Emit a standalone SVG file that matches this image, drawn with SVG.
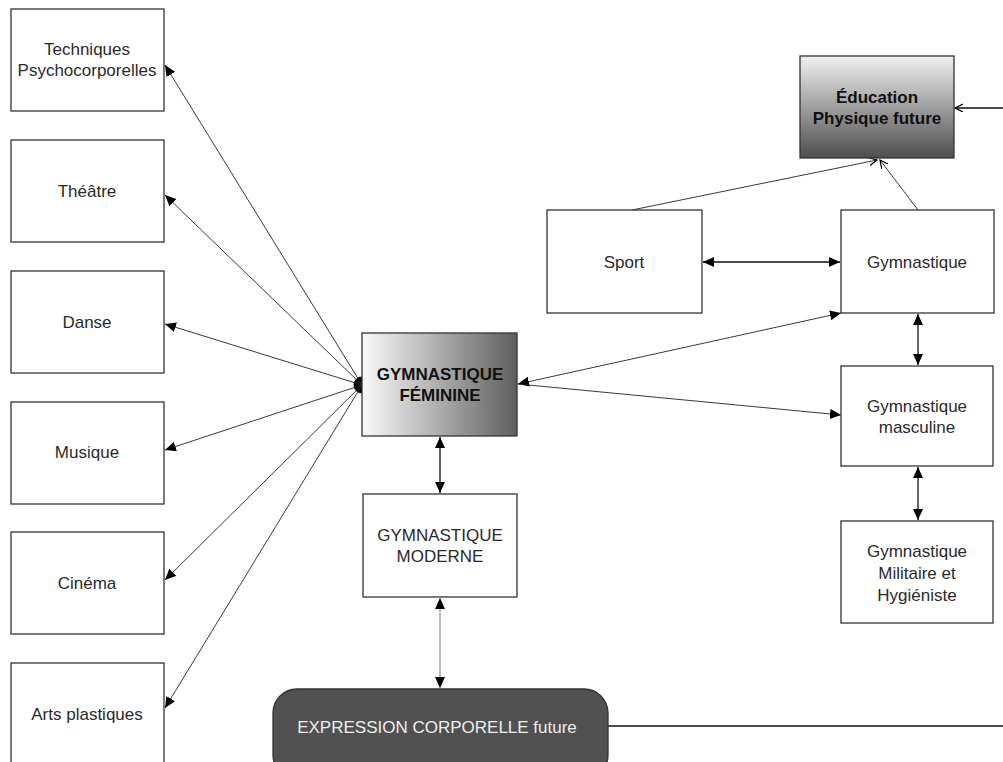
<svg xmlns="http://www.w3.org/2000/svg" width="1003" height="762" viewBox="0 0 1003 762">
<style>
.box{fill:#fff;stroke:#333;stroke-width:1.3}
.t{font-family:"Liberation Sans",Arial,sans-serif;font-size:17px;fill:#2a2a2a;text-anchor:middle}
.b{font-weight:bold;fill:#111}
.w{fill:#eee}
.ln{fill:none;stroke:#222;stroke-width:0.9}
.lg{fill:none;stroke:#999;stroke-width:1.3}
.lk{fill:none;stroke:#111;stroke-width:1.3}
</style>
<defs>
<marker id="ah" markerUnits="userSpaceOnUse" markerWidth="13" markerHeight="11" refX="11" refY="5" orient="auto-start-reverse" viewBox="0 0 13 11">
<path d="M0,0 L11,5 L0,10 z" fill="#000"/>
</marker>
<marker id="oh" markerUnits="userSpaceOnUse" markerWidth="10" markerHeight="10" refX="8" refY="4" orient="auto" viewBox="0 0 10 10">
<path d="M0,0 L8,4 L0,8" fill="none" stroke="#000" stroke-width="1.2"/>
</marker>
<linearGradient id="gf" x1="0" y1="0" x2="1" y2="0">
<stop offset="0" stop-color="#fafafa"/>
<stop offset="1" stop-color="#5e5e5e"/>
</linearGradient>
<linearGradient id="ge" x1="0" y1="0" x2="0" y2="1">
<stop offset="0" stop-color="#f0f0f0"/>
<stop offset="1" stop-color="#4e4e4e"/>
</linearGradient>
</defs>
<rect width="1003" height="762" fill="#fff"/>
<g id="connectors">
<circle cx="362" cy="385" r="8.5" fill="#000"/>
<line class="ln" x1="362" y1="385" x2="165" y2="65" marker-end="url(#ah)"/>
<line class="ln" x1="362" y1="385" x2="165" y2="195" marker-end="url(#ah)"/>
<line class="ln" x1="362" y1="385" x2="165" y2="324" marker-end="url(#ah)"/>
<line class="ln" x1="362" y1="385" x2="165" y2="450" marker-end="url(#ah)"/>
<line class="ln" x1="362" y1="385" x2="165" y2="580" marker-end="url(#ah)"/>
<line class="ln" x1="362" y1="385" x2="165" y2="708" marker-end="url(#ah)"/>
<line class="ln" x1="518" y1="384" x2="841" y2="313" marker-start="url(#ah)" marker-end="url(#ah)"/>
<line class="ln" x1="518" y1="384" x2="841" y2="415" marker-end="url(#ah)"/>
<line class="lk" x1="703" y1="262" x2="840" y2="262" marker-start="url(#ah)" marker-end="url(#ah)"/>
<line class="lk" x1="918" y1="314" x2="918" y2="365" marker-start="url(#ah)" marker-end="url(#ah)"/>
<line class="lk" x1="918" y1="467" x2="918" y2="520" marker-start="url(#ah)" marker-end="url(#ah)"/>
<line class="lk" x1="440" y1="437" x2="440" y2="493" marker-start="url(#ah)" marker-end="url(#ah)"/>
<line class="lg" x1="440" y1="598" x2="440" y2="688" marker-start="url(#ah)" marker-end="url(#ah)"/>
<line class="ln" x1="632" y1="210" x2="877" y2="160" marker-end="url(#oh)"/>
<line class="ln" x1="918" y1="210" x2="880" y2="160" marker-end="url(#oh)"/>
<line class="lk" x1="1003" y1="108" x2="955" y2="108" marker-end="url(#oh)"/>
<line class="lk" x1="608" y1="726" x2="1003" y2="726"/>
</g>
<g id="n-techniques"><rect class="box" x="11" y="9" width="153" height="102"/><text class="t" x="87" y="55">Techniques</text><text class="t" x="87" y="76">Psychocorporelles</text></g>
<g id="n-theatre"><rect class="box" x="11" y="140" width="153" height="102"/><text class="t" x="87" y="197">Théâtre</text></g>
<g id="n-danse"><rect class="box" x="11" y="271" width="153" height="102"/><text class="t" x="87" y="328">Danse</text></g>
<g id="n-musique"><rect class="box" x="11" y="402" width="153" height="102"/><text class="t" x="87" y="458">Musique</text></g>
<g id="n-cinema"><rect class="box" x="11" y="532" width="153" height="102"/><text class="t" x="87" y="589">Cinéma</text></g>
<g id="n-arts"><rect class="box" x="11" y="663" width="153" height="110"/><text class="t" x="87" y="720">Arts plastiques</text></g>
<g id="n-feminine"><rect x="362" y="333" width="155" height="103" fill="url(#gf)" stroke="#333" stroke-width="1.3"/><text class="t b" x="440" y="380">GYMNASTIQUE</text><text class="t b" x="440" y="401">FÉMININE</text></g>
<g id="n-moderne"><rect class="box" x="363" y="494" width="154" height="103"/><text class="t" x="440" y="541">GYMNASTIQUE</text><text class="t" x="440" y="562">MODERNE</text></g>
<g id="n-expression"><rect x="273" y="689" width="335" height="90" rx="24" ry="24" fill="#515151" stroke="#333" stroke-width="1.3"/><text class="t w" x="437" y="733">EXPRESSION CORPORELLE future</text></g>
<g id="n-education"><rect x="800" y="56" width="154" height="102" fill="url(#ge)" stroke="#333" stroke-width="1.3"/><text class="t b" x="877" y="103">Éducation</text><text class="t b" x="877" y="124">Physique future</text></g>
<g id="n-sport"><rect class="box" x="547" y="210" width="155" height="103"/><text class="t" x="624" y="268">Sport</text></g>
<g id="n-gymnastique"><rect class="box" x="841" y="210" width="153" height="103"/><text class="t" x="917" y="268">Gymnastique</text></g>
<g id="n-masculine"><rect class="box" x="841" y="366" width="152" height="100"/><text class="t" x="917" y="412">Gymnastique</text><text class="t" x="917" y="433">masculine</text></g>
<g id="n-militaire"><rect class="box" x="841" y="521" width="152" height="102"/><text class="t" x="917" y="557">Gymnastique</text><text class="t" x="917" y="579">Militaire et</text><text class="t" x="917" y="601">Hygiéniste</text></g>
</svg>
